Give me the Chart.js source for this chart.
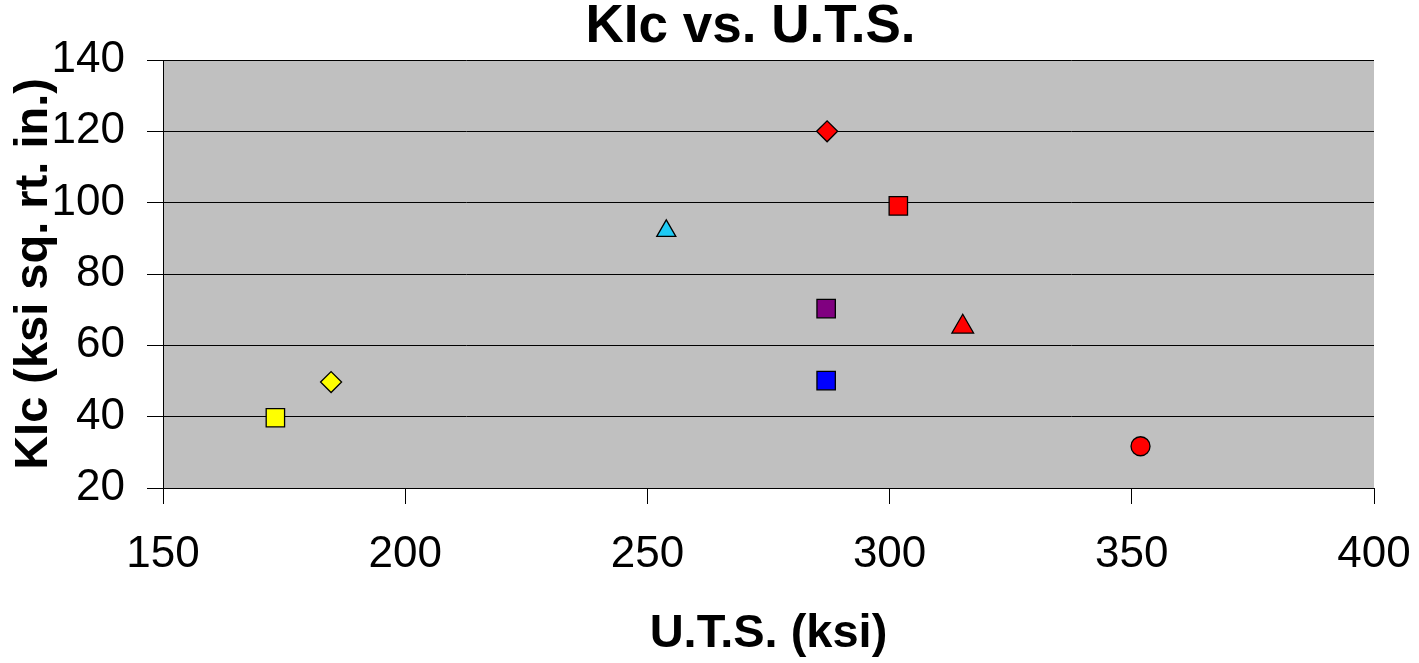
<!DOCTYPE html>
<html>
<head>
<meta charset="utf-8">
<script src="https://cdn.jsdelivr.net/npm/chart.js@4"></script>
<style>
  html, body { margin: 0; padding: 0; background: #ffffff; }
  #wrap { width: 1419px; height: 663px; position: relative; }
</style>
</head>
<body>
<div id="wrap"><canvas id="c"></canvas></div>
<script>
// ---- data ----
const chartTitle = 'KIc vs. U.T.S.';
const xAxisTitle = 'U.T.S. (ksi)';
const yAxisTitle = 'KIc (ksi sq. rt. in.)';
const utsKsi = [173.2, 184.7, 253.9, 287.1, 286.9, 286.9, 301.8, 315.1, 351.8];
const kicKsiRtIn = [39.7, 49.7, 92.1, 120.0, 70.3, 50.1, 99.1, 65.2, 31.7];
const xTickRange = [150, 400, 50];   // min, max, step
const yTickRange = [20, 140, 20];

// ---- marker styles (kept apart from the data) ----
const markerShapes = ['rect', 'rectRot', 'triangle', 'rectRot', 'rect', 'rect', 'rect', 'triangle', 'circle'];
const markerColors = ['#FFFF00', '#FFFF00', '#1ECBF5', '#FF0000', '#800080', '#0000FF', '#FF0000', '#FF0000', '#FF0000'];
const markerRadii  = [13, 10.5, 11, 10.5, 13, 13, 13, 12.5, 9.5];

const points = utsKsi.map((x, i) => ({ x: x, y: kicKsiRtIn[i] }));

const FONT = '"Liberation Sans", Arial, sans-serif';

const plotBackground = {
  id: 'plotBackground',
  beforeDraw(chart) {
    const { ctx, chartArea: a } = chart;
    ctx.save();
    ctx.fillStyle = '#C0C0C0';
    ctx.fillRect(a.left, a.top, a.right - a.left, a.bottom - a.top);
    ctx.restore();
  },
  afterLayout(chart) {
    const t = chart.titleBlock, a = chart.chartArea;
    if (!t) return;
    const w = t.right - t.left;
    const c = (a.left + a.right) / 2 - 18;
    t.left = c - w / 2;
    t.right = c + w / 2;
  }
};

new Chart(document.getElementById('c'), {
  type: 'scatter',
  data: {
    datasets: [{
      data: points,
      pointStyle: markerShapes,
      backgroundColor: markerColors,
      borderColor: '#000000',
      borderWidth: 1.3,
      pointRadius: markerRadii,
      pointHoverRadius: markerRadii,
      showLine: false
    }]
  },
  options: {
    responsive: true,
    maintainAspectRatio: false,
    animation: false,
    layout: { padding: { left: 0, right: 45, top: 0, bottom: 0 } },
    plugins: {
      legend: { display: false },
      tooltip: { enabled: false },
      title: {
        display: true,
        text: chartTitle,
        color: '#000000',
        font: { family: FONT, size: 53, weight: 'bold', lineHeight: 1 },
        padding: { top: 1, bottom: 6 }
      }
    },
    scales: {
      x: {
        type: 'linear',
        min: xTickRange[0], max: xTickRange[1],
        afterFit(scale) {
          scale.height = 175;
          scale.paddingLeft = 0;
          scale.paddingRight = 0;
        },
        ticks: {
          stepSize: xTickRange[2],
          color: '#000000',
          padding: 24,
          font: { family: FONT, size: 44, lineHeight: 1.2 },
          maxRotation: 0
        },
        grid: { drawOnChartArea: false, drawTicks: true, tickLength: 16, color: '#000000', lineWidth: 1 },
        border: { display: true, color: '#000000', width: 1 },
        title: {
          display: true, text: xAxisTitle, color: '#000000',
          font: { family: FONT, size: 47, weight: 'bold', lineHeight: 1 },
          padding: { top: 0, bottom: 5 }
        }
      },
      y: {
        type: 'linear',
        min: yTickRange[0], max: yTickRange[1],
        afterFit(scale) { scale.width = 163; },
        ticks: {
          stepSize: yTickRange[2],
          color: '#000000',
          padding: 22,
          font: { family: FONT, size: 44, lineHeight: 1.2 }
        },
        grid: { drawOnChartArea: true, drawTicks: true, tickLength: 16, color: '#000000', lineWidth: 1 },
        border: { display: true, color: '#000000', width: 1 },
        title: {
          display: true, text: yAxisTitle, color: '#000000',
          font: { family: FONT, size: 47, weight: 'bold', lineHeight: 1 },
          padding: { top: 11, bottom: 0 }
        }
      }
    }
  },
  plugins: [plotBackground]
});
</script>
</body>
</html>
